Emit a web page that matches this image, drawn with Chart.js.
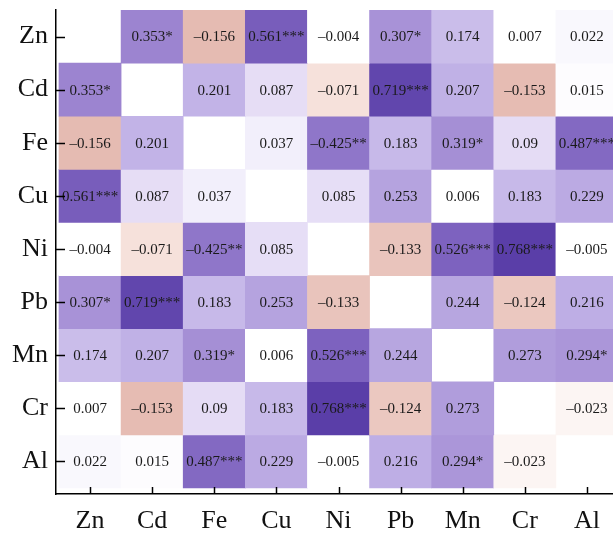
<!DOCTYPE html>
<html>
<head>
<meta charset="utf-8">
<script src="https://cdn.jsdelivr.net/npm/chart.js@4/dist/chart.umd.min.js"></script>
<style>
html,body{margin:0;padding:0;background:#fff;overflow:hidden;}
#wrap{width:621px;height:534px;position:relative;}
</style>
</head>
<body>
<div id="wrap"><canvas id="c"></canvas></div>
<script>
// Elements (categories, in axis order)
const elements = ['Zn','Cd','Fe','Cu','Ni','Pb','Mn','Cr','Al'];

// Correlation rows (null = diagonal)
const r_Zn = [null, 0.353, -0.156, 0.561, -0.004, 0.307, 0.174, 0.007, 0.022];
const r_Cd = [0.353, null, 0.201, 0.087, -0.071, 0.719, 0.207, -0.153, 0.015];
const r_Fe = [-0.156, 0.201, null, 0.037, -0.425, 0.183, 0.319, 0.09, 0.487];
const r_Cu = [0.561, 0.087, 0.037, null, 0.085, 0.253, 0.006, 0.183, 0.229];
const r_Ni = [-0.004, -0.071, -0.425, 0.085, null, -0.133, 0.526, 0.768, -0.005];
const r_Pb = [0.307, 0.719, 0.183, 0.253, -0.133, null, 0.244, -0.124, 0.216];
const r_Mn = [0.174, 0.207, 0.319, 0.006, 0.526, 0.244, null, 0.273, 0.294];
const r_Cr = [0.007, -0.153, 0.09, 0.183, 0.768, -0.124, 0.273, null, -0.023];
const r_Al = [0.022, 0.015, 0.487, 0.229, -0.005, 0.216, 0.294, -0.023, null];
const corr = [r_Zn, r_Cd, r_Fe, r_Cu, r_Ni, r_Pb, r_Mn, r_Cr, r_Al];

// Significance (number of stars)
const s_Zn = [0,1,0,3,0,1,0,0,0];
const s_Cd = [1,0,0,0,0,3,0,0,0];
const s_Fe = [0,0,0,0,2,0,1,0,3];
const s_Cu = [3,0,0,0,0,0,0,0,0];
const s_Ni = [0,0,2,0,0,0,3,3,0];
const s_Pb = [1,3,0,0,0,0,0,0,0];
const s_Mn = [0,0,1,0,3,0,0,0,1];
const s_Cr = [0,0,0,0,3,0,0,0,0];
const s_Al = [0,0,3,0,0,0,1,0,0];
const stars = [s_Zn, s_Cd, s_Fe, s_Cu, s_Ni, s_Pb, s_Mn, s_Cr, s_Al];

// colour scale anchors
const posStops = [[0,[255,255,255]],[0.01,[255,255,255]],[0.04,[241,237,250]],[0.09,[229,220,245]],[0.2,[194,179,231]],[0.35,[157,133,208]],[0.5,[129,102,193]],[0.77,[90,62,168]],[1,[70,40,150]]];
const negStops = [[0,[255,255,255]],[0.01,[255,255,255]],[0.023,[252,245,243]],[0.071,[246,225,219]],[0.124,[235,200,192]],[0.156,[229,187,178]],[1,[200,120,110]]];

function interp(stops, t){
  for(let i=1;i<stops.length;i++){
    if(t<=stops[i][0]){
      const a=stops[i-1], b=stops[i];
      const f=(t-a[0])/(b[0]-a[0]);
      const c=a[1].map((v,k)=>Math.round(v+(b[1][k]-v)*f));
      return `rgb(${c[0]},${c[1]},${c[2]})`;
    }
  }
  const c=stops[stops.length-1][1];
  return `rgb(${c[0]},${c[1]},${c[2]})`;
}
function colorFor(v, s){
  const c = s>0 ? Math.abs(v) : v;
  return c>=0 ? interp(posStops, c) : interp(negStops, -c);
}
function fmt(v, s){
  let t = String(Math.abs(v));
  if(v<0) t = '\u2013'+t;
  return t + '*'.repeat(s);
}

const datasets = corr.map((row, i) => {
  const pts = [], cols = [];
  row.forEach((v, j) => {
    if(v===null) return;
    pts.push({x: j+1, y: [i+0.5, i+1.5]});
    cols.push(colorFor(v, stars[i][j]));
  });
  return {
    label: elements[i],
    data: pts,
    backgroundColor: cols,
    borderWidth: 0,
    barPercentage: 1,
    categoryPercentage: 1,
    grouped: false
  };
});

const serif = "'Liberation Serif', 'Times New Roman', serif";

const cellText = {
  id: 'cellText',
  afterDatasetsDraw(chart){
    const ctx = chart.ctx;
    const xs = chart.scales.x, ys = chart.scales.y;
    ctx.save();
    ctx.font = "15px " + serif;
    ctx.fillStyle = '#1a1a1a';
    ctx.textAlign = 'center';
    ctx.textBaseline = 'middle';
    corr.forEach((row, i) => row.forEach((v, j) => {
      if(v===null) return;
      ctx.fillText(fmt(v, stars[i][j]), xs.getPixelForValue(j+1), ys.getPixelForValue(i+1)+1);
    }));
    // inward tick marks
    ctx.strokeStyle = '#000';
    ctx.lineWidth = 1.5;
    const a = chart.chartArea;
    elements.forEach((e, k) => {
      const px = Math.round(xs.getPixelForValue(k+1))+0.5;
      ctx.beginPath(); ctx.moveTo(px, a.bottom); ctx.lineTo(px, a.bottom-7); ctx.stroke();
      const py = Math.round(ys.getPixelForValue(k+1))+0.5;
      ctx.beginPath(); ctx.moveTo(a.left, py); ctx.lineTo(a.left+9, py); ctx.stroke();
    });
    ctx.restore();
  }
};

new Chart(document.getElementById('c'), {
  type: 'bar',
  data: { datasets },
  options: {
    responsive: true,
    maintainAspectRatio: false,
    animation: false,
    layout: { padding: { top: 10, left: 0, right: 0, bottom: 0 } },
    plugins: { legend: { display: false }, tooltip: { enabled: false } },
    scales: {
      x: {
        type: 'linear',
        offset: false,
        min: 0.452, max: 9.548,
        grid: { display: false, drawTicks: false, offset: false },
        border: { display: true, color: '#000', width: 1.5 },
        afterFit(s){ s.height = 40; s.paddingLeft = 0; s.paddingRight = 0; },
        afterBuildTicks(s){ s.ticks = elements.map((_, k) => ({value: k+1})); },
        ticks: {
          autoSkip: false, maxRotation: 0, padding: 12,
          color: '#111',
          font: { family: serif, size: 26 },
          callback: (v) => elements[Math.round(v)-1] || ''
        }
      },
      y: {
        type: 'linear',
        offset: false,
        reverse: true,
        min: 0.5, max: 9.613,
        grid: { display: false, drawTicks: false, offset: false },
        border: { display: true, color: '#000', width: 1.5 },
        afterFit(s){ s.width = 56; s.paddingTop = 0; s.paddingBottom = 0; },
        afterBuildTicks(s){ s.ticks = elements.map((_, k) => ({value: k+1})); },
        ticks: {
          autoSkip: false, padding: 8,
          color: '#111',
          font: { family: serif, size: 26 },
          callback: (v) => elements[Math.round(v)-1] || ''
        }
      }
    }
  },
  plugins: [cellText]
});
</script>
</body>
</html>
